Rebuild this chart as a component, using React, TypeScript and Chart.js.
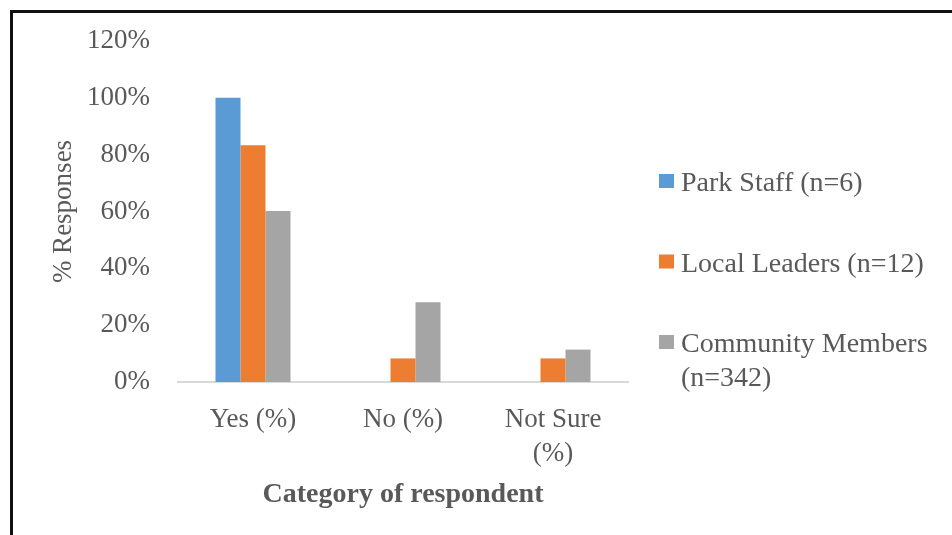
import React, { useEffect, useRef } from "react";
import { Chart, registerables } from "chart.js";

Chart.register(...registerables);

// Survey responses by respondent group (percent of each group)
const categories: (string | string[])[] = ["Yes (%)", "No (%)", ["Not Sure", "(%)"]];
const seriesLabels = ["Park Staff (n=6)", "Local Leaders (n=12)", "Community Members (n=342)"];
const parkStaff = [100, 0, 0];
const localLeaders = [83.3, 8.3, 8.3];
const communityMembers = [60.2, 28.1, 11.4];
const seriesColors = ["#5B9BD5", "#ED7D31", "#A5A5A5"];
const yTicks = [0, 20, 40, 60, 80, 100, 120];

const FONT = '"Liberation Serif", "Times New Roman", serif';
const TEXT_COLOR = "#595959";

// Legend drawn on the right with word-wrapped labels
const sideLegend = {
  id: "sideLegend",
  afterDraw(chart: Chart) {
    const ctx = chart.ctx;
    const x0 = 659;
    const textX = 681;
    const maxW = 262;
    const lineH = 34;
    let y = 184;
    ctx.save();
    ctx.font = `28px ${FONT}`;
    ctx.textBaseline = "middle";
    ctx.textAlign = "left";
    chart.data.datasets.forEach((ds: any) => {
      const words = String(ds.label).split(" ");
      const lines: string[] = [];
      let cur = "";
      words.forEach((w) => {
        const test = cur ? cur + " " + w : w;
        if (ctx.measureText(test).width > maxW && cur) {
          lines.push(cur);
          cur = w;
        } else {
          cur = test;
        }
      });
      if (cur) lines.push(cur);
      ctx.fillStyle = ds.backgroundColor;
      ctx.fillRect(x0, y - 10, 15, 14);
      ctx.fillStyle = TEXT_COLOR;
      lines.forEach((ln, i) => ctx.fillText(ln, textX, y + i * lineH));
      y += lines.length * lineH + 46.5;
    });
    ctx.restore();
  },
};

export default function App() {
  const canvasRef = useRef<HTMLCanvasElement | null>(null);

  useEffect(() => {
    if (!canvasRef.current) return;
    const chart = new Chart(canvasRef.current, {
      type: "bar",
      data: {
        labels: categories,
        datasets: [parkStaff, localLeaders, communityMembers].map((values, i) => ({
          label: seriesLabels[i],
          data: values,
          backgroundColor: seriesColors[i],
          borderWidth: 0,
          categoryPercentage: 0.5,
          barPercentage: 1,
        })),
      },
      options: {
        responsive: false,
        animation: false,
        layout: { padding: { left: 10, right: 324, top: 41, bottom: 0 } },
        plugins: {
          legend: { display: false },
          tooltip: { enabled: false },
        },
        scales: {
          x: {
            grid: { display: false, drawTicks: false, tickLength: 0 },
            border: { display: true, color: "#D9D9D9", width: 2 },
            ticks: {
              color: TEXT_COLOR,
              padding: 21,
              maxRotation: 0,
              font: { family: FONT, size: 27, lineHeight: 1.25 },
            },
            title: {
              display: true,
              text: "Category of respondent",
              color: TEXT_COLOR,
              font: { family: FONT, size: 28, weight: "bold" },
              padding: { top: 0, bottom: 23 },
            },
            afterFit(scale: any) {
              scale.height = 153;
              scale.paddingLeft = 0;
              scale.paddingRight = 0;
            },
          },
          y: {
            min: 0,
            max: 120,
            grid: { display: false, drawTicks: false, tickLength: 0 },
            border: { display: false },
            afterBuildTicks(scale: any) {
              scale.ticks = yTicks.map((v) => ({ value: v }));
            },
            ticks: {
              color: TEXT_COLOR,
              padding: 28,
              font: { family: FONT, size: 27 },
              callback: (v: any) => `${v}%`,
            },
            title: {
              display: true,
              text: "% Responses",
              color: TEXT_COLOR,
              font: { family: FONT, size: 27 },
              padding: { top: 38, bottom: 0 },
            },
            afterFit(scale: any) {
              scale.width = 168;
              scale.paddingTop = 0;
              scale.paddingBottom = 0;
            },
          },
        },
      },
      plugins: [sideLegend],
    });
    return () => chart.destroy();
  }, []);

  return (
    <div
      style={{
        position: "absolute",
        left: 0,
        top: 0,
        width: 952,
        height: 535,
        background: "#fff",
        overflow: "hidden",
      }}
    >
      <div
        style={{
          position: "absolute",
          left: 10,
          top: 10,
          width: 960,
          height: 560,
          borderLeft: "3px solid #111",
          borderTop: "3px solid #111",
        }}
      />
      <canvas
        ref={canvasRef}
        width={952}
        height={535}
        style={{ position: "absolute", left: 0, top: 0 }}
      />
    </div>
  );
}
